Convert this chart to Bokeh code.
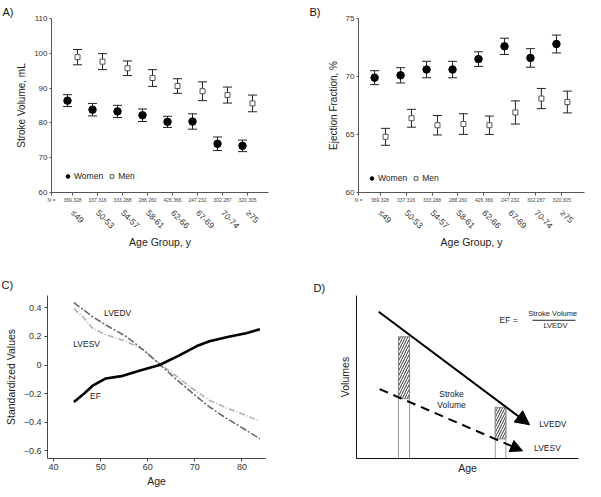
import math
from bokeh.plotting import figure
from bokeh.models import (Range1d, FixedTicker, LinearAxis, Whisker, TeeHead, ColumnDataSource,
                          Legend, LegendItem, Title, Arrow, NormalHead)
from bokeh.layouts import column, row
from bokeh.embed import file_html
from bokeh.resources import INLINE
from bokeh.core.properties import value

FONT = "Liberation Sans"

# ---------------- data ----------------
age_groups = ["≤49", "50-53", "54-57", "58-61", "62-66", "67-69", "70-74", "≥75"]
n_labels = ["369 328", "337 316", "333 288", "288 260", "426 366", "247 232", "302 287", "320 305"]

sv_women = [86.4, 83.8, 83.3, 82.2, 80.3, 80.4, 74.0, 73.4]
sv_women_err = [1.7, 1.8, 1.75, 1.8, 1.6, 2.2, 1.95, 1.65]
sv_men = [98.9, 97.6, 95.7, 92.9, 90.6, 89.1, 88.0, 85.6]
sv_men_err = [2.2, 2.3, 2.1, 2.4, 2.1, 2.7, 2.3, 2.4]
sv_ticks = [60, 70, 80, 90, 100, 110]

ef_women = [69.9, 70.1, 70.6, 70.6, 71.5, 72.6, 71.6, 72.8]
ef_women_err = [0.6, 0.66, 0.71, 0.71, 0.63, 0.7, 0.8, 0.77]
ef_men = [64.8, 66.4, 65.8, 65.9, 65.8, 66.9, 68.1, 67.8]
ef_men_err = [0.73, 0.77, 0.84, 0.89, 0.79, 1.0, 0.87, 0.94]
ef_ticks = [60, 65, 70, 75]

age_ef = [44.3, 46.5, 48.3, 51.1, 54.7, 58.2, 62.5, 66.7, 70.3, 73.1, 77.4, 80.9, 83.8]
ef_std = [-0.26, -0.2, -0.145, -0.094, -0.076, -0.041, 0.0, 0.067, 0.131, 0.166, 0.2, 0.223, 0.251]
age_vol = [44.3, 46.2, 48.3, 51.1, 55.4, 59.0, 62.5, 66.0, 69.6, 73.1, 76.7, 80.2, 83.8]
lvedv_std = [0.437, 0.39, 0.338, 0.28, 0.2, 0.108, 0.005, -0.099, -0.2, -0.294, -0.374, -0.443, -0.517]
lvesv_std = [0.396, 0.338, 0.258, 0.212, 0.166, 0.108, 0.01, -0.076, -0.168, -0.248, -0.3, -0.345, -0.393]
c_xticks = [40, 50, 60, 70, 80]
c_yticks = [-0.6, -0.4, -0.2, 0, 0.2, 0.4]

# schematic (panel D), arbitrary units
d_edv_x = [10.0, 78.0]
d_edv_y = [90.0, 20.7]
d_esv_x = [10.4, 74.8]
d_esv_y = [42.6, 4.7]
d_bar_left = [18.9, 62.5]
d_bar_right = [23.9, 67.3]
d_bar_top = [74.7, 31.4]
d_bar_bottom = [36.7, 12.0]


def base_fig(width, height, xr, yr, left, right, top, bottom):
    p = figure(width=width, height=height, x_range=xr, y_range=yr,
               output_backend="svg", toolbar_location=None,
               min_border_left=left, min_border_right=right,
               min_border_top=top, min_border_bottom=bottom)
    p.grid.visible = False
    p.outline_line_color = None
    return p


def panel_tag(p, text, offset, standoff):
    p.add_layout(Title(text=text, align="left", offset=offset, standoff=standoff,
                       text_font=FONT, text_font_size="11px", text_font_style="normal",
                       text_color="#111111"), "above")


def style_axis(ax, color="#555555", label_size="8px", title_size="10px"):
    ax.axis_line_color = color
    ax.major_tick_line_color = color
    ax.minor_tick_line_color = None
    ax.major_tick_in = 0
    ax.major_tick_out = 3
    ax.major_label_text_font = FONT
    ax.major_label_text_font_size = label_size
    ax.major_label_text_color = "#333333"
    ax.axis_label_text_font = FONT
    ax.axis_label_text_font_size = title_size
    ax.axis_label_text_font_style = "normal"
    ax.axis_label_text_color = "#222222"


def group_panel(tag, tag_offset, w, we, m, me, yr, ticks, ylabel, xr, off, width, borders,
                legend_loc, ylab_standoff):
    p = base_fig(width, 254, xr, yr, *borders)
    idx = list(range(len(age_groups)))
    src_w = ColumnDataSource(dict(x=[i - off for i in idx], y=w,
                                  lo=[a - b for a, b in zip(w, we)], hi=[a + b for a, b in zip(w, we)]))
    src_m = ColumnDataSource(dict(x=[i + off for i in idx], y=m,
                                  lo=[a - b for a, b in zip(m, me)], hi=[a + b for a, b in zip(m, me)]))
    for src in (src_w, src_m):
        wk = Whisker(source=src, base="x", upper="hi", lower="lo", level="underlay",
                     line_color="#222222", line_width=1,
                     upper_head=TeeHead(size=9, line_color="#222222", line_width=1),
                     lower_head=TeeHead(size=9, line_color="#222222", line_width=1))
        p.add_layout(wk)
    rw = p.scatter("x", "y", source=src_w, marker="circle", size=7.5,
                   fill_color="black", line_color="black")
    rm = p.scatter("x", "y", source=src_m, marker="square", size=5,
                   fill_color="white", line_color="#555555", line_width=1)

    # y axis
    style_axis(p.yaxis[0])
    p.yaxis.ticker = FixedTicker(ticks=ticks)
    p.yaxis.major_tick_out = 2
    p.yaxis.major_label_standoff = 2
    p.yaxis.axis_label = ylabel
    p.yaxis.axis_label_standoff = ylab_standoff

    # x axis with N labels (first tick carries the "N =" caption)
    style_axis(p.xaxis[0], label_size="5px")
    n_ticks = [xr.start] + idx
    p.xaxis.ticker = FixedTicker(ticks=n_ticks)
    p.xaxis.major_label_overrides = {t: s for t, s in zip(n_ticks, ["N ="] + n_labels)}
    p.xaxis.major_label_standoff = 1
    p.xaxis.major_label_text_color = "#444444"

    ax2 = LinearAxis(ticker=FixedTicker(ticks=idx),
                     major_label_overrides={i: s for i, s in zip(idx, age_groups)},
                     major_label_orientation=-math.pi / 4)
    style_axis(ax2, label_size="8.5px", title_size="10.5px")
    ax2.axis_line_color = None
    ax2.major_tick_line_color = None
    ax2.major_label_standoff = 3
    ax2.axis_label = "Age Group, y"
    ax2.axis_label_standoff = -1
    p.add_layout(ax2, "below")

    legend = Legend(items=[LegendItem(label="Women", renderers=[rw]),
                           LegendItem(label="Men", renderers=[rm])],
                    orientation="horizontal", location=legend_loc,
                    border_line_color=None, background_fill_alpha=0,
                    padding=0, margin=0, spacing=4, label_standoff=2,
                    glyph_width=9, glyph_height=12,
                    label_text_font=FONT, label_text_font_size="8.5px",
                    label_text_color="#222222", label_height=12)
    p.add_layout(legend)
    panel_tag(p, tag, tag_offset, 1)
    return p


pa = group_panel("A)", -49, sv_women, sv_women_err, sv_men, sv_men_err,
                 Range1d(60, 110), sv_ticks, "Stroke Volume, mL",
                 Range1d(-0.84, 7.84), 0.2, 292, (51, 24, 18, 60), (12, 10), 4)
pb = group_panel("B)", -49, ef_women, ef_women_err, ef_men, ef_men_err,
                 Range1d(60, 75), ef_ticks, "Ejection Fraction, %",
                 Range1d(-0.83, 7.87), 0.21, 293, (66, 1, 17, 62), (9, 8), 4)

# ---------------- panel C ----------------
pc = base_fig(292, 235, Range1d(38.7, 85.0), Range1d(-0.655, 0.487), 47, 27, 41, 31)
pc.line(age_vol, lvesv_std, line_color="#b0b0b0", line_width=1.6, line_dash="6 2 1 2")
pc.line(age_vol, lvedv_std, line_color="#6a6a6a", line_width=1.6, line_dash="7 2 2 2")
pc.line(age_ef, ef_std, line_color="black", line_width=2.6)
for ax in (pc.xaxis[0], pc.yaxis[0]):
    style_axis(ax, color="#444444", label_size="9px", title_size="10.5px")
pc.xaxis.ticker = FixedTicker(ticks=c_xticks)
pc.yaxis.ticker = FixedTicker(ticks=c_yticks)
pc.yaxis.major_label_overrides = {0: "0"}
pc.xaxis.axis_label = "Age"
pc.yaxis.axis_label = "Standardized Values"
pc.xaxis.major_label_standoff = 2
pc.yaxis.major_label_standoff = 3
pc.xaxis.axis_label_standoff = 2
pc.yaxis.axis_label_standoff = 4
pc.text(x=[53.6, 47.0, 48.9], y=[0.366, 0.15, -0.214], text=["LVEDV", "LVESV", "EF"],
        text_font=value(FONT), text_font_size="8.5px", text_align="center",
        text_baseline="middle", text_color="#222222")
panel_tag(pc, "C)", -46, 10)

# ---------------- panel D ----------------
pd_ = base_fig(293, 235, Range1d(0, 100), Range1d(0, 100), 64, 7, 39, 27)
for ax in (pd_.xaxis[0], pd_.yaxis[0]):
    style_axis(ax, color="#111111", title_size="10.5px")
    ax.ticker = FixedTicker(ticks=[])
    ax.major_tick_line_color = None
pd_.xaxis.axis_label = "Age"
pd_.yaxis.axis_label = "Volumes"
pd_.xaxis.axis_label_standoff = 3
pd_.yaxis.axis_label_standoff = 6

pd_.segment(x0=d_bar_left + d_bar_right, y0=[0, 0, 0, 0],
            x1=d_bar_left + d_bar_right, y1=d_bar_top + d_bar_top,
            line_color="#9a9a9a", line_width=1)
pd_.quad(left=d_bar_left, right=d_bar_right, top=d_bar_top, bottom=d_bar_bottom,
         fill_color="white", line_color="#888888", line_width=1,
         hatch_pattern="/", hatch_scale=5, hatch_color="#333333", hatch_weight=1)
pd_.add_layout(Arrow(x_start=d_edv_x[0], y_start=d_edv_y[0], x_end=d_edv_x[1], y_end=d_edv_y[1],
                     line_color="black", line_width=2,
                     end=NormalHead(size=14, fill_color="black", line_color="black")))
pd_.add_layout(Arrow(x_start=d_esv_x[0], y_start=d_esv_y[0], x_end=d_esv_x[1], y_end=d_esv_y[1],
                     line_color="black", line_width=2, line_dash="9 6",
                     end=NormalHead(size=12, fill_color="black", line_color="black")))
pd_.text(x=[42.8, 42.8], y=[39.6, 33.1], text=["Stroke", "Volume"],
         text_font=value(FONT), text_font_size="8.5px", text_align="center",
         text_baseline="middle", text_color="#222222")
pd_.text(x=[82.3, 80.0], y=[20.9, 6.5], text=["LVEDV", "LVESV"],
         text_font=value(FONT), text_font_size="8.5px", text_align="left",
         text_baseline="middle", text_color="#222222")
pd_.text(x=[64.4], y=[85.2], text=["EF ="], text_font=value(FONT), text_font_size="8.5px",
         text_align="left", text_baseline="middle", text_color="#222222")
pd_.text(x=[88.4, 89.6], y=[88.8, 81.4], text=["Stroke Volume", "LVEDV"],
         text_font=value(FONT), text_font_size="7.5px", text_align="center",
         text_baseline="middle", text_color="#222222")
pd_.segment(x0=[79.3], y0=[84.8], x1=[98.6], y1=[84.8], line_color="#222222", line_width=1)
panel_tag(pd_, "D)", -43, 4)

layout = column(row(pa, pb), row(pc, pd_))
open("out.html", "w").write(file_html(layout, INLINE))
